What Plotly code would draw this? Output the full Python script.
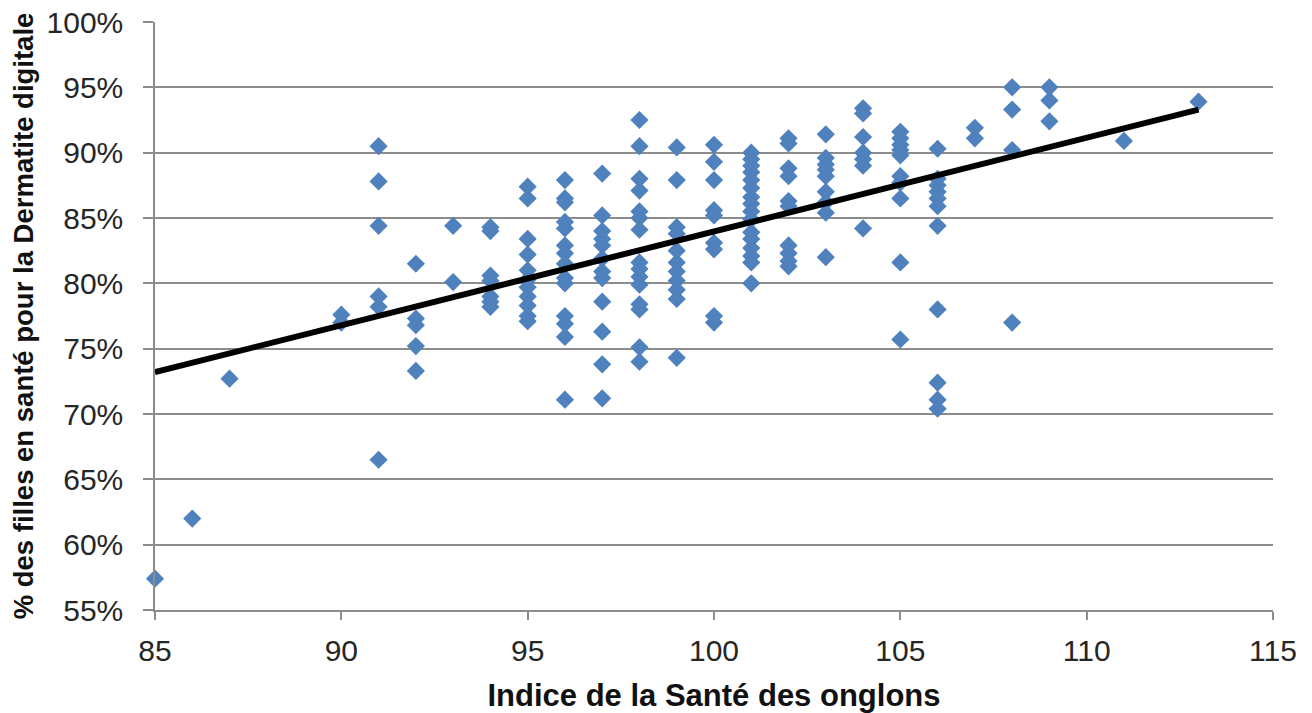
import plotly.graph_objects as go

# Data: index value -> list of % values
indice = [85, 86, 87, 90, 91, 92, 93, 94, 95, 96, 97, 98, 99, 100, 101, 102, 103,
          104, 105, 106, 107, 108, 109, 111, 113]
pct_by_indice = [
    [57.4],
    [62.0],
    [72.7],
    [77.6, 77.0],
    [90.5, 87.8, 84.4, 79.0, 78.2, 66.5],
    [81.5, 77.3, 76.8, 75.2, 73.3],
    [84.4, 80.1],
    [84.3, 84.0, 80.6, 80.2, 79.0, 78.6, 78.2],
    [87.4, 86.5, 83.4, 82.2, 81.0, 80.3, 79.7, 79.0, 78.3, 77.5, 77.1],
    [87.9, 86.5, 86.2, 84.7, 84.2, 82.9, 82.3, 81.5, 80.4, 80.0, 77.5, 76.9, 75.9, 71.1],
    [88.4, 85.2, 84.0, 83.4, 82.9, 81.9, 80.9, 80.4, 78.6, 76.3, 73.8, 71.2],
    [92.5, 90.5, 88.0, 87.1, 85.5, 85.0, 84.1, 81.6, 81.1, 80.5, 79.9, 78.4, 78.0, 75.1, 74.0],
    [90.4, 87.9, 84.3, 83.8, 82.5, 81.6, 80.9, 80.2, 79.5, 78.8, 74.3],
    [90.6, 89.3, 87.9, 85.6, 85.2, 83.1, 82.6, 77.5, 77.0],
    [90.0, 89.5, 89.0, 88.5, 87.9, 87.3, 86.6, 86.1, 85.5, 84.9, 83.9, 83.4, 82.7, 82.1, 81.6, 80.0],
    [91.1, 90.7, 88.8, 88.2, 86.3, 85.9, 82.9, 82.3, 81.7, 81.3],
    [91.4, 89.6, 89.1, 88.7, 88.2, 87.0, 86.2, 85.4, 82.0],
    [93.4, 93.0, 91.2, 90.0, 89.5, 89.0, 84.2],
    [91.6, 91.1, 90.6, 90.2, 89.8, 88.2, 87.7, 86.5, 81.6, 75.7],
    [90.3, 88.0, 87.5, 87.0, 86.5, 85.9, 84.4, 78.0, 72.4, 71.1, 70.4],
    [91.9, 91.1],
    [95.0, 93.3, 90.2, 77.0],
    [95.0, 94.0, 92.4],
    [90.9],
    [93.9],
]

# Trend line end points
trend_x = [85, 113]
trend_y = [73.2, 93.3]

x_ticks = [85, 90, 95, 100, 105, 110, 115]
y_ticks = [55, 60, 65, 70, 75, 80, 85, 90, 95, 100]

xs, ys = [], []
for xv, vals in zip(indice, pct_by_indice):
    for v in vals:
        xs.append(xv)
        ys.append(v / 100)

fig = go.Figure()
fig.add_trace(go.Scatter(
    x=xs, y=ys, mode="markers",
    marker=dict(symbol="diamond", size=14, color="#4F81BD", line=dict(width=0)),
    cliponaxis=False, showlegend=False,
))
fig.add_trace(go.Scatter(
    x=trend_x, y=[v / 100 for v in trend_y], mode="lines",
    line=dict(color="black", width=6), cliponaxis=False, showlegend=False,
))

grid = "#8c8c8c"
fam = "Liberation Sans, Arial, sans-serif"
tick_font = dict(family=fam, size=30, color="#262626")

fig.update_layout(
    width=1312, height=713,
    margin=dict(l=155, r=39, t=22, b=103),
    paper_bgcolor="white", plot_bgcolor="white",
    xaxis=dict(
        range=[85, 115], tickvals=x_ticks, ticktext=[str(v) for v in x_ticks],
        showgrid=False, zeroline=False, automargin=False,
        showline=True, linecolor=grid, linewidth=1.5,
        ticks="outside", ticklen=8, tickcolor=grid, tickwidth=1.5,
        tickfont=tick_font, ticklabelstandoff=5, ticklabeloverflow="allow",
        title=dict(text="<b>Indice de la Santé des onglons</b>",
                   font=dict(family=fam, size=31, color="#111111"), standoff=22),
    ),
    yaxis=dict(
        range=[0.55, 1.0], tickvals=[v / 100 for v in y_ticks],
        ticktext=[f"{v}%" for v in y_ticks],
        showgrid=True, gridcolor=grid, gridwidth=1.5, zeroline=False, automargin=False,
        showline=True, linecolor=grid, linewidth=1.5,
        ticks="outside", ticklen=10, tickcolor=grid, tickwidth=1.5,
        tickfont=tick_font, ticklabelstandoff=14, ticklabeloverflow="allow",
        title=dict(text="<b>% des filles en santé pour la Dermatite digitale</b>",
                   font=dict(family=fam, size=27.5, color="#111111"),
                   standoff=5),
    ),
)

# Remove the browser's default 8px body margin so the figure fills the window exactly.
fig.write_html("out.html", config={"displayModeBar": False},
               post_script="document.body.style.margin='0';")
